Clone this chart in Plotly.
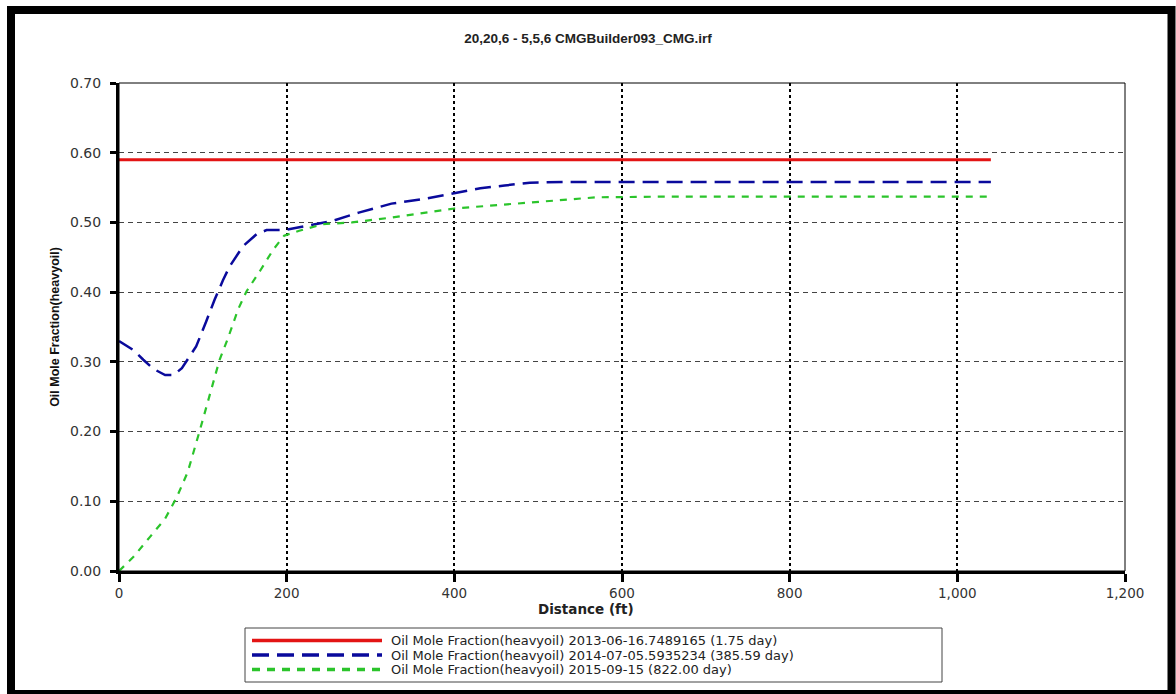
import plotly.graph_objects as go

# ---------------- data ----------------
title_text = "20,20,6 - 5,5,6 CMGBuilder093_CMG.irf"
x_title = "Distance (ft)"
y_title = "Oil Mole Fraction(heavyoil)"

series_names = [
    "Oil Mole Fraction(heavyoil) 2013-06-16.7489165 (1.75 day)",
    "Oil Mole Fraction(heavyoil) 2014-07-05.5935234 (385.59 day)",
    "Oil Mole Fraction(heavyoil) 2015-09-15 (822.00 day)",
]

red_x = [0, 1040]
red_y = [0.59, 0.59]

blue_x = [0, 17, 29, 41, 55, 65, 75, 82, 92, 104, 114, 124, 132, 148, 164, 176,
          197, 215, 254, 286, 325, 365, 400, 431, 460, 490, 530, 600, 700, 800, 900, 1040]
blue_y = [0.330, 0.317, 0.303, 0.290, 0.281, 0.281, 0.291, 0.303, 0.322, 0.358, 0.389, 0.417,
          0.437, 0.466, 0.483, 0.489, 0.489, 0.493, 0.502, 0.514, 0.527, 0.534, 0.542, 0.549,
          0.553, 0.557, 0.558, 0.558, 0.558, 0.558, 0.558, 0.558]

green_x = [0, 17, 37, 55, 69, 82, 96, 110, 120, 130, 142, 152, 168, 184, 197, 215, 243,
           278, 325, 400, 451, 500, 569, 650, 800, 1040]
green_y = [0.000, 0.020, 0.049, 0.075, 0.106, 0.142, 0.200, 0.262, 0.303, 0.334, 0.375,
           0.401, 0.430, 0.461, 0.481, 0.488, 0.4975, 0.500, 0.507, 0.520, 0.525, 0.530,
           0.536, 0.537, 0.537, 0.537]

x_ticks = [0, 200, 400, 600, 800, 1000, 1200]
y_ticks = [0.0, 0.1, 0.2, 0.3, 0.4, 0.5, 0.6, 0.7]

colors = ["#E31414", "#0A0A9C", "#2BC42B"]
dashes = ["solid", "16px,8px", "7px,7px"]

# ---------------- layout geometry (pixels) ----------------
W, H = 1176, 694
L, R, T, B = 119, 51, 83, 123
PW, PH = W - L - R, H - T - B

WIDE = "DejaVu Sans, Verdana, sans-serif"


def px(x):
    return (x - L) / PW


def py(y):
    return (H - B - y) / PH


fig = go.Figure()
for xs, ys, c, d, n, w in [
    (red_x, red_y, colors[0], dashes[0], series_names[0], 3),
    (blue_x, blue_y, colors[1], dashes[1], series_names[1], 2.5),
    (green_x, green_y, colors[2], dashes[2], series_names[2], 2.2),
]:
    fig.add_trace(go.Scatter(x=xs, y=ys, mode="lines", name=n, showlegend=False,
                             line=dict(color=c, dash=d, width=w)))

shapes = []
# thin frame around plot area (top/right)
shapes.append(dict(type="rect", xref="paper", yref="paper", x0=0, x1=1, y0=0, y1=1,
                   line=dict(color="black", width=1), layer="above"))
# outer thick frame
shapes.append(dict(type="rect", xref="paper", yref="paper",
                   x0=px(11), x1=px(1171.5), y0=py(10), y1=py(694),
                   line=dict(color="black", width=8)))
# custom legend box
lx0, lx1, ly0, ly1 = 245, 942, 628, 682
shapes.append(dict(type="rect", xref="paper", yref="paper",
                   x0=px(lx0), x1=px(lx1), y0=py(ly0), y1=py(ly1),
                   line=dict(color="#444444", width=1), fillcolor="white"))
rows = [640.5, 655, 669.5]
annotations = []
for i in range(3):
    shapes.append(dict(type="line", xref="paper", yref="paper",
                       x0=px(252), x1=px(382), y0=py(rows[i]), y1=py(rows[i]),
                       line=dict(color=colors[i], width=3.5,
                                 dash=["solid", "17px,8px", "8px,7px"][i])))
    annotations.append(dict(xref="paper", yref="paper", x=px(389), y=py(rows[i]),
                            text=series_names[i], showarrow=False, xanchor="left",
                            yanchor="middle",
                            font=dict(family=WIDE, size=13, color="#222222")))

# x-axis title (centered on the figure like the reference)
annotations.append(dict(xref="paper", yref="paper", x=px(586), y=py(609),
                        text="<b>" + x_title + "</b>", showarrow=False,
                        xanchor="center", yanchor="middle",
                        font=dict(family=WIDE, size=13.5, color="#222222")))

fig.update_layout(
    width=W, height=H,
    margin=dict(l=L, r=R, t=T, b=B, autoexpand=False),
    paper_bgcolor="white", plot_bgcolor="white",
    title=dict(text="<b>" + title_text + "</b>", x=0.5, xref="container", xanchor="center",
               y=1 - 38 / H, yref="container", yanchor="middle",
               font=dict(family="Arial, Liberation Sans", size=13.5, color="#222222")),
    shapes=shapes,
    annotations=annotations,
    showlegend=False,
)

fig.update_xaxes(
    range=[0, 1200], tickvals=x_ticks, tickformat=",d",
    showline=True, linewidth=3, linecolor="black",
    ticks="outside", ticklen=8, tickwidth=3, tickcolor="black",
    ticklabelstandoff=0,
    showgrid=True, gridcolor="black", gridwidth=2, griddash="dot",
    zeroline=False,
    tickfont=dict(family=WIDE, size=13.5, color="#333333"),
    automargin=False,
)
fig.update_yaxes(
    range=[0, 0.7], tickvals=y_ticks, tickformat=".2f",
    showline=True, linewidth=3, linecolor="black",
    ticks="outside", ticklen=6, tickwidth=3, tickcolor="black",
    ticklabelstandoff=6,
    showgrid=True, gridcolor="#444444", gridwidth=1, griddash="5px,4px",
    zeroline=False,
    tickfont=dict(family=WIDE, size=14, color="#333333"),
    title=dict(text="<b>" + y_title + "</b>", standoff=8,
               font=dict(family="Liberation Sans Narrow, Arial Narrow, Liberation Sans",
                         size=12.5, color="#111111")),
    automargin=False,
)

fig.write_html("out.html")
